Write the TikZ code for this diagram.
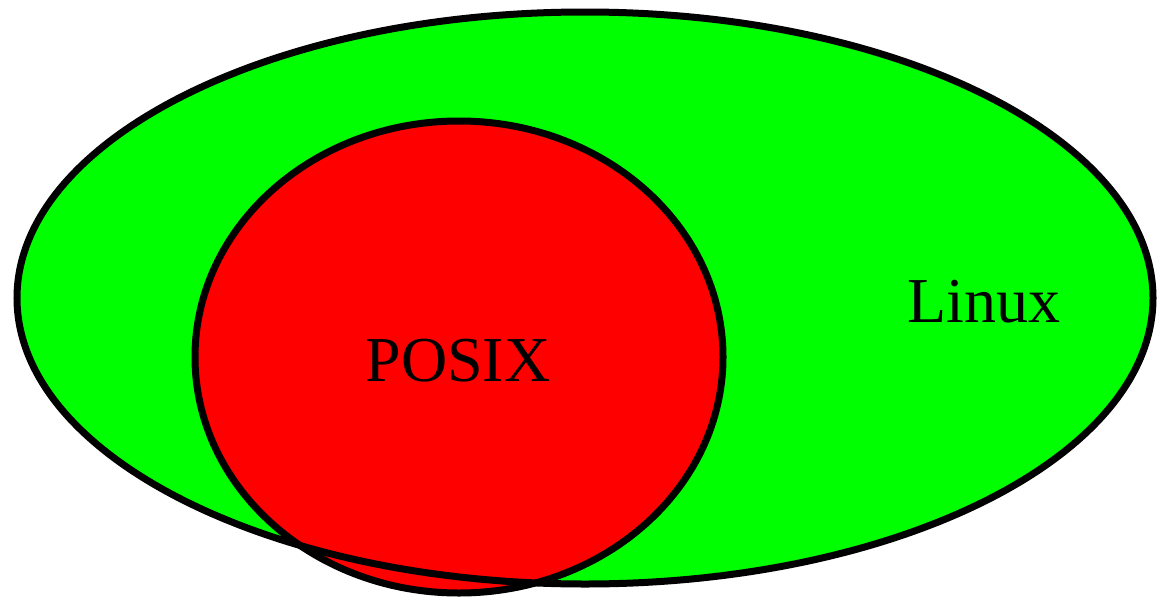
\documentclass[tikz,border=0pt]{standalone}
\usepackage{fontspec}
\setmainfont{Liberation Serif}
\usepackage{tikz}
\definecolor{linuxgreen}{RGB}{0,255,0}
\definecolor{posixred}{RGB}{255,0,0}

\begin{document}
\begin{tikzpicture}[
    x=1pt, y=-1pt,
    outline/.style={draw=black, line width=7pt},
    label/.style={font=\fontsize{64}{64}\selectfont, anchor=base, inner sep=0pt}
]
\useasboundingbox (0,0) rectangle (1159,597);
% sets
\fill[linuxgreen] (585,298) ellipse [x radius=568, y radius=286];
\filldraw[fill=posixred, outline] (459,357) ellipse [x radius=264, y radius=236];
\draw[outline] (585,298) ellipse [x radius=568, y radius=286];
% labels
\node[label] (posix) at (458,381) {POSIX};
\node[label] (linux) at (984,322) {Linux};
\end{tikzpicture}
\end{document}
